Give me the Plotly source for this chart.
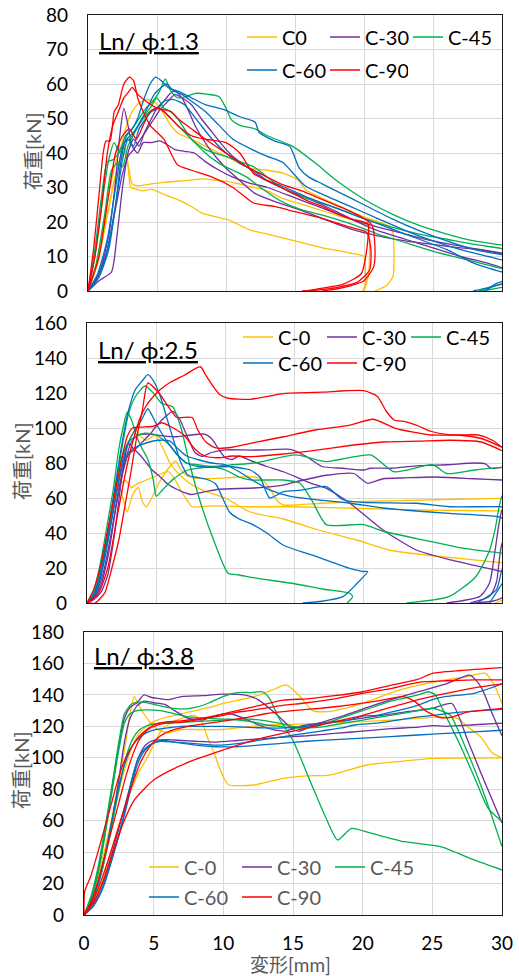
import plotly.graph_objects as go

# ---------------- labels / styling constants ----------------
SERIES_COLORS = ["#FFC000", "#7030A0", "#00B050", "#0070C0", "#FF0000"]
P1_LABELS = ["C0", "C-30", "C-45", "C-60", "C-90"]
P23_LABELS = ["C-0", "C-30", "C-45", "C-60", "C-90"]
PANEL_TITLES = ["Ln/ ϕ:1.3", "Ln/ ϕ:2.5", "Ln/ ϕ:3.8"]
Y_TITLE = "荷重[kN]"
X_TITLE = "変形[mm]"
X_RANGE = [0, 30]
X_DTICK = 5
Y_MAX = [80, 160, 180]
Y_DTICK = [10, 20, 20]

# ---------------- data: each curve = list of [deformation mm, load kN] ----------------
# Panel 1 (Ln/phi 1.3)
p1_c0 = [
    [[0,0],[0.5,6],[1.0,16],[1.5,28],[2.0,37],[2.4,42],[2.8,48],[3.2,52],[3.7,54.5],[4.3,55.5],[4.9,54.5],[5.4,52],[6.0,48],[6.6,45.5],[7.5,44],[8.5,42],[9.5,40],[10.5,38],[11.7,35.6],[13,35],[14.2,34.1],[15.2,32.2],[15.8,29.3],[17.8,25.4],[20.0,21.5],[21.9,18.6],[22.1,16.7],[22.1,4.2],[21.6,1.5],[20.8,0]],
    [[0,0],[0.6,7],[1.2,18],[1.8,30],[2.3,38],[2.6,42],[2.9,37],[3.2,31],[3.6,30.5],[4.5,31],[5.5,31.5],[7,32],[8.3,32.5],[9.5,32],[10.2,31.7],[11,31],[12.1,30],[13,29],[14,27],[16,24.5],[18,22],[19.6,20],[20.3,19],[20.4,12],[20.3,4],[20.0,0]],
    [[0,0],[0.7,8],[1.3,20],[1.9,32],[2.3,38],[2.6,40],[2.9,36],[3.1,30],[3.5,29.5],[4,29],[4.6,29.5],[5.5,28],[6.5,26.5],[7.5,24.5],[8.3,22.5],[10.2,20.6],[11.7,17.7],[13,16.5],[15,14.5],[17,12.5],[19,11],[20,10],[20.1,7],[20.1,2],[19.9,0]],
]
p1_c30 = [
    [[0,0],[0.8,3],[1.7,5.5],[2.1,16],[2.5,30],[2.9,40],[3.3,44],[3.7,42],[4.1,46],[4.6,50],[5.0,53],[5.5,55],[5.9,57],[6.3,58],[6.8,56],[7.2,53],[7.8,47.6],[8.7,41.8],[9.9,36],[11,32],[12.1,28.3],[13.5,26],[15,24],[17,21],[19,18],[21,16],[23,14.5],[25,13.5],[27,12.5],[28.5,12],[30,11],[31,10.5]],
    [[0,0],[0.7,4],[1.4,12],[2.0,24],[2.5,34],[2.9,39],[3.3,41],[3.8,44],[4.3,47],[4.8,50],[5.3,53],[5.8,55],[6.3,57],[6.8,56],[7.5,54],[8.2,50],[9,46],[9.8,42],[10.5,39],[11.5,36],[12.5,33],[14,30],[15.5,27.5],[17,25],[19,21],[21,17.5],[23,15],[25,12.5],[27,10],[29,8],[30,6.8],[31,6]],
    [[0,0],[0.8,5],[1.5,16],[2.0,32],[2.3,45],[2.6,53],[2.9,48],[3.2,42],[3.6,40],[4.0,43],[4.6,43],[5.2,43.5],[5.7,42.5],[6.3,41],[7,40.5],[7.7,40],[8.5,37.5],[9.5,35],[10.5,33],[11.7,31.3],[13,30],[15,27],[17,24],[19,21],[21,18.5],[23,16.5],[25,14.5],[27,13],[29,11.5],[30,10.8],[31,10.5]],
]
p1_c45 = [
    [[0,0],[0.5,10],[1.0,25],[1.5,38],[1.9,43],[2.3,40],[2.7,45],[3.2,47],[3.7,50],[4.2,53],[4.7,55],[5.2,58],[5.6,61.5],[6.0,58],[6.5,56],[7.2,56.5],[7.8,57.3],[8.7,57],[9.5,56.3],[10,53],[10.4,49.6],[11,48],[12.1,47],[13,45],[14.8,42],[16.5,37],[18,32],[20,26.6],[22.2,22],[24,19],[26,16.5],[28,14.5],[30,13.3],[32,12]],
    [[0,0],[0.6,8],[1.2,22],[1.7,35],[2.1,37],[2.5,36],[2.9,42],[3.4,46],[3.9,50],[4.5,53],[5.0,56],[5.5,53],[6.0,52],[6.5,50],[7.5,44],[8.5,41],[10,39],[11,37.5],[12,36],[13,33],[14,30],[15,28],[16.5,26],[18,24],[20,21],[22,18.5],[24,16.5],[26,15],[28,13.5],[30,12.3],[31,11.5],[31.5,8],[30.5,3],[29.5,1.5],[28.3,0]],
    [[0,0],[0.5,12],[1.0,28],[1.4,37.5],[1.8,38],[2.2,40],[2.6,43],[3.0,44],[3.5,47],[4.0,50],[4.5,52],[5.0,53],[5.5,52],[6.5,48],[7.5,44],[8.5,40],[9.5,37],[10.5,35],[11.5,33],[12.5,30],[14,26],[15.5,23.5],[17,22],[19,19.5],[21,16.5],[23,14],[25,11.5],[27,9.5],[29,7.5],[30,6.5],[31,5.5],[31.5,4],[30.5,1.5],[29.5,0.7],[28.5,0]],
]
p1_c60 = [
    [[0,0],[0.8,4],[1.5,12],[2.0,25],[2.4,38],[2.8,45],[3.2,47],[3.6,50],[4.0,55],[4.5,60],[4.9,62],[5.3,61],[5.8,59],[6.6,57.8],[7.5,56],[8.5,54],[9.9,52.5],[11,50.5],[12.1,49],[12.4,46],[13.5,43.5],[14.6,42],[15.3,35.7],[16,33],[17,31],[18.5,28],[20,25],[22,21],[24,17.5],[26,14.5],[28,12],[30,10.5],[31.5,9.5],[32,6],[31,3],[30,2],[29,1],[27.9,0]],
    [[0,0],[0.7,5],[1.4,15],[2.0,30],[2.4,40],[2.8,44],[3.3,46],[3.8,49],[4.3,53],[4.8,57],[5.3,59],[5.7,60],[6.2,58],[6.8,57],[7.5,55],[8.5,52],[9.5,48],[10.5,44],[11.9,41],[13,39],[14.1,37.3],[15.7,30.6],[17,28],[19,24.5],[21,21],[23,17.5],[25,14.5],[27,12],[29,10],[30,9],[31,8.5],[31.5,6],[30.5,3.5],[29.5,2],[28.8,0]],
    [[0,0],[0.6,3],[1.3,10],[2.0,25],[2.5,38],[2.9,44],[3.3,42],[3.7,47],[4.2,50],[4.6,52],[5.1,53],[5.5,55],[6.2,55.5],[7,54],[8,49],[9,44],[10,40],[11,37],[12,35],[13,32],[14,30.5],[16,27],[18,24],[20,21],[22,18],[24,15],[26,12],[28,8],[30,5.5],[31,5]],
]
p1_c90 = [
    [[0,0],[0.4,12],[0.8,28],[1.1,40],[1.3,43.5],[1.6,43.5],[1.9,52],[2.2,54],[2.6,60],[3.0,62],[3.3,61],[3.6,56],[4.0,52],[4.5,48],[5.0,46],[5.5,44],[6.0,40],[6.5,36.5],[7.5,35],[9,33],[10.5,30],[12,25.5],[13.5,24.5],[15,23],[17,21],[19,18.5],[20.2,17],[20.5,12],[20.4,6],[19.5,2.5],[18,1],[16,0]],
    [[0,0],[0.5,10],[1.0,25],[1.4,40],[1.8,48],[2.2,52],[2.6,56],[3.0,58],[3.2,59],[3.6,57],[4.2,55],[5.0,53],[6.0,52],[6.5,50],[7.5,47],[8.5,44],[10,40],[11.5,36],[12.5,34],[14,31],[15.5,29],[17,26.5],[18.5,24],[20,21],[20.6,19],[20.8,12],[20.7,7],[20,3],[18.5,1],[17,0]],
    [[0,0],[0.8,10],[1.5,28],[2.0,40],[2.5,45],[3.0,47],[3.5,44],[4,48],[4.5,52],[5,53],[5.5,52],[6.5,48],[7.5,45],[8.5,44],[10,43],[11,40],[12,34],[13,32],[14,30],[15,28],[16,26],[17,24.5],[18,22.5],[19,21],[20,20],[20.3,19.5],[20.2,12],[19.8,5],[18.5,2],[16.5,0.5],[15.5,0]],
]

# Panel 2 (Ln/phi 2.5)
p2_c0 = [
    [[0,0],[0.6,6],[1.2,24],[1.7,45],[2.0,58],[2.3,68],[2.6,60],[2.9,52],[3.3,62],[3.7,66],[4.0,58],[4.3,55],[4.8,62],[5.3,70],[5.8,76],[6.4,81],[6.8,76],[7.4,72],[8.5,71],[10,71.5],[11.8,72.2],[12.6,71],[13.2,65.5],[13.8,58],[14.2,56],[17,57],[20,58],[25,59],[30,59.8]],
    [[0,0],[0.5,5],[1.1,22],[1.6,44],[2.0,62],[2.4,68],[2.8,70],[3.2,66],[3.6,68],[4.2,70],[4.8,72],[5.4,74],[5.9,75],[6.4,70],[6.8,64],[7.3,58],[7.6,55],[9,55.5],[11.8,55],[15,55],[20,54],[25,53],[30,52.6]],
    [[0,0],[0.5,5],[1.0,18],[1.5,38],[2.0,58],[2.4,72],[2.8,86],[3.2,95],[3.5,99],[3.9,95],[4.3,93],[4.9,96],[5.4,90],[6.0,80],[6.6,74],[7.5,68],[8.5,64],[10,60],[11.8,52],[14.2,48],[16.6,42],[19.5,36],[22,30],[25,27],[30,23],[31,22],[31.5,10],[30.5,3],[30,1.5],[29.5,0]],
]
p2_c30 = [
    [[0,0],[0.5,3],[1.0,10],[1.6,30],[2.1,55],[2.6,75],[3.0,85],[3.5,88],[4.0,92],[4.5,96],[5,101],[5.6,106],[6.2,109.5],[6.7,105],[7.2,96],[7.8,86],[8.3,83.8],[9,86],[10,87.5],[11.8,87.4],[13,87.5],[14.7,87.8],[15.8,84],[17,78],[18.5,77],[20,76],[20.5,77],[22,77],[24,78.5],[26,79],[28,80],[28.8,79.5],[29.2,77],[30,77.5],[31,77],[32,73],[31,63],[30,53],[29.5,30],[29.1,11.4],[28.4,3.8],[26,0]],
    [[0,0],[0.6,5],[1.2,18],[1.8,42],[2.3,65],[2.8,82],[3.2,92],[3.7,96],[4.5,96.5],[5.5,95.5],[6.5,95],[7.5,96],[8.5,96.5],[9,94],[9.6,87],[10,83],[10.5,82],[11,84],[11.8,81.5],[13,78],[14.2,75],[16.2,68.4],[17.3,65.5],[19,57],[21.4,41.7],[23.8,30.3],[26.3,24.6],[28,21.5],[30,18],[31,16],[31.5,12],[30.5,6],[30,3],[29.3,1],[28,0]],
    [[0,0],[0.5,2],[1.0,6],[1.5,16],[2.0,40],[2.4,65],[2.7,82],[3.0,91],[3.4,88],[3.9,84],[4.3,80],[4.7,76],[5.3,72],[5.9,67.6],[6.5,65],[7.1,62.9],[7.5,62],[8.5,63.5],[9.5,65],[12.1,65.7],[14.2,67.4],[15.5,70],[17.3,73],[19.3,74],[19.8,71],[20.3,68.4],[21.4,71],[23,71.5],[25,72],[28,71],[30,70.3],[31,70],[32,65],[31,45],[30,34],[29.6,12],[29.1,3.8],[27.7,0]],
]
p2_c45 = [
    [[0,0],[0.4,5],[0.9,20],[1.4,42],[1.9,65],[2.3,88],[2.6,100],[2.9,109],[3.2,105],[3.6,95],[4.0,88],[4.4,82],[4.8,70],[5.0,61],[5.5,65],[6.2,70.5],[7.3,76],[9,78],[10.5,79],[12.1,80],[15.1,84.6],[17.3,80.8],[20.5,84.6],[22.2,75],[25,79],[26,74],[28,76],[30,77.5],[31,77],[32,74],[31,68],[30,61],[29.5,42],[29.1,30],[28.1,15],[26.2,3.8],[23.1,0]],
    [[0,0],[0.5,5],[1.0,18],[1.6,42],[2.1,68],[2.6,92],[3.0,108],[3.5,118],[4.2,124],[4.8,120],[5.4,114],[6.2,112],[6.8,100],[7.4,80],[8.3,55],[9.2,35],[10.2,17],[11,16],[12.1,14.3],[15,11],[17,8],[19,5.5],[19.2,3.6],[18.8,0]],
    [[0,0],[0.5,6],[1.0,20],[1.6,45],[2.1,68],[2.6,85],[3.0,92],[3.5,95],[4.2,97],[5,96],[6,90],[6.6,84],[7.2,80],[8,79],[9,78],[10,76],[11,72],[11.8,70.3],[14.2,70.3],[15.4,68.4],[16.3,58],[17.3,44.8],[20,44.8],[21.4,41],[24.8,35.2],[27,31.5],[30,28.5]],
]
p2_c60 = [
    [[0,0],[0.5,5],[1.0,18],[1.5,40],[2.0,65],[2.5,90],[3.0,110],[3.5,122],[4.0,127],[4.4,130.5],[4.8,127],[5.3,118],[5.8,105],[6.3,92],[6.8,80],[7.3,73],[7.8,72],[8.5,71],[9.3,68],[9.8,60],[10.3,52],[11,48],[11.8,45.5],[13,40],[14.2,33],[16.6,26.5],[19,19.8],[20,18],[20.3,18],[19.5,11],[18.5,3.6],[17,1],[15.6,0]],
    [[0,0],[0.5,4],[1.0,16],[1.6,40],[2.1,62],[2.6,82],[3.0,92],[3.4,98],[3.9,104],[4.4,111],[4.9,104],[5.4,97],[6.0,90],[6.5,85],[7.2,80],[8,78],[9,77.5],[10.2,78],[11.2,77],[11.8,76],[12.5,72],[13.2,60],[14.2,63.6],[15.5,64.5],[17.3,66.5],[18.5,59],[20,57.5],[23.8,57],[26.2,55],[30,55],[31,54],[31.5,40],[30.5,25],[30,19],[29.6,7.6],[28.2,0]],
    [[0,0],[0.6,5],[1.2,22],[1.8,48],[2.3,70],[2.8,84],[3.3,88],[3.8,90],[4.5,92],[5.2,93],[6.0,92.5],[6.6,88],[7.2,84],[8,82],[9,80],[10,79],[11,75],[11.8,71],[13.2,64.6],[14.7,60.9],[19,57],[21.4,54.3],[26.2,51.2],[29.6,49.5],[30,48.6],[31,47],[31.5,30],[30.3,15],[30,11],[29.1,0]],
]
p2_c90 = [
    [[0,0],[0.8,5],[1.5,20],[2.2,50],[2.8,75],[3.3,92],[3.8,105],[4.3,113],[4.8,118],[5.3,122],[6,126],[7,130],[8.2,135],[8.6,130],[9.1,124],[9.6,119],[10.2,117],[11.8,116.4],[14.2,119.7],[17,120.5],[20,121.3],[21,118],[21.6,110],[22.2,104.6],[23,103.6],[24,101],[24.9,98],[26.3,96],[28.3,96],[29.3,93],[30,89]],
    [[0,0],[0.6,0],[1.0,3],[1.3,6],[1.8,20],[2.3,36],[2.8,58],[3.2,76],[3.6,95],[4.0,110],[4.4,125.7],[5.2,120],[5.9,112],[6.5,106],[7.6,106],[8,99],[8.6,92],[9.3,88.6],[10.5,89],[11.8,91.2],[14.2,95],[16.6,99],[19,101.7],[20.7,105],[22.3,99.8],[24.9,96],[26.8,96],[28.5,94],[30,89]],
    [[0,0],[0.5,8],[1.0,22],[1.5,42],[2.0,62],[2.5,82],[2.9,95],[3.3,100],[4,100.5],[4.8,101],[5.4,103],[6,101],[7,96],[7.8,88],[8.5,84],[9.5,83],[10.5,84],[11.8,83.6],[14,85],[16.6,87.4],[19,90],[21.4,92],[24,92.5],[26.2,93],[28.5,92],[30,87]],
]

# Panel 3 (Ln/phi 3.8)
p3_c0 = [
    [[0,0],[0.5,10],[1.0,25],[1.5,42],[2.0,62],[2.5,85],[3.0,110],[3.3,128],[3.6,139],[3.9,134],[4.3,128],[4.8,122],[5.3,118],[6.0,116],[7,118],[8,118],[10,118],[12,120],[14,121],[16,121.5],[18,122.5],[20,123],[22,124],[24,125],[25.5,126],[26.8,125],[27.5,120],[28.5,113],[29.3,103],[30,100]],
    [[0,0],[0.6,10],[1.2,28],[1.8,50],[2.4,75],[3.0,95],[3.5,108],[4.0,116],[4.5,120],[5,123],[6,126],[7,128],[8,130],[9,132],[10,134.6],[11,136.5],[12.2,138.9],[13.5,143],[14.5,146.3],[15.5,139],[16.4,130],[17.4,129.3],[18.5,131],[20,134.6],[22.6,143],[25,148],[27.5,151.6],[28.8,153.7],[29.4,147],[30,134.6]],
    [[0,0],[0.7,8],[1.4,24],[2.1,45],[2.8,65],[3.5,82],[4.0,92],[4.6,101],[5.1,110],[5.6,118],[6.2,122],[7.0,125],[7.9,127],[8.4,124],[8.9,112],[9.3,104],[9.6,96.5],[10.1,86],[10.4,82.7],[12.2,82.7],[14.3,86.9],[16,88.5],[17.6,89],[20.3,95.4],[22.5,97.5],[25.1,99.6],[30,100]],
]
p3_c30 = [
    [[0,0],[0.5,10],[1.0,28],[1.5,52],[2.0,80],[2.5,108],[2.9,125],[3.3,132],[3.8,135],[4.3,140],[4.8,138.5],[5.3,137.8],[6,137],[7,138.9],[8.5,139.5],[10,140.5],[11.5,140],[12.5,137],[13.5,130],[14.5,122],[15,118],[15.5,117],[16.5,121],[18,125],[20,131],[22,137],[24,142],[26,147],[27.7,152.6],[28.5,145],[29.3,128],[30,114]],
    [[0,0],[0.6,8],[1.2,25],[1.8,50],[2.4,80],[2.9,110],[3.3,125],[3.8,133],[4.3,136],[5,135],[5.8,134],[6.5,130],[7.5,125],[8.5,124],[9.5,127],[10.5,128],[11.5,125],[12.5,121],[13.5,118],[14.5,117],[15.5,120],[17,122],[19,124],[21,126.5],[23,129],[25,131.5],[26.4,134.5],[27.5,112],[28.5,90],[30,58.5]],
    [[0,0],[0.7,8],[1.4,22],[2.1,42],[2.8,65],[3.4,85],[3.9,100],[4.4,108],[5,111],[6,111.5],[7,111],[8,110.5],[9.5,110],[11,111],[12.5,112],[14,113],[16,114],[18,115.5],[20,117],[22,118.5],[24,119.5],[25,120.5],[26,120],[28,121],[30,122]],
]
p3_c45 = [
    [[0,0],[0.5,12],[1.0,30],[1.5,55],[2.0,82],[2.5,110],[2.9,128],[3.4,134],[4,135.5],[5,134],[6,132],[7,131],[8,132],[9,135],[10,139],[11,141.5],[12,141.5],[12.8,142],[13.3,138],[14,125],[15,111],[16.3,83.7],[17.3,63],[18.2,47.7],[19.2,55.1],[20.6,52],[23,46.6],[25.6,43.5],[28,35],[30,28.6]],
    [[0,0],[0.5,10],[1.0,26],[1.5,50],[2.0,78],[2.5,105],[2.9,122],[3.3,128],[3.8,130],[4.5,130.5],[5.5,130],[6.5,128],[7.5,126],[9,125],[10.5,124.5],[12,123],[13,121],[14,120],[15,119],[16,119],[17,121],[18,124],[19,127],[20,130],[21,133],[22,136],[23,138],[24,140],[24.7,142],[25.2,140],[26,126],[27,108],[28,88],[29,68],[30,59.4]],
    [[0,0],[0.6,9],[1.2,25],[1.8,48],[2.4,75],[3.0,100],[3.5,112],[4.0,118],[4.7,121],[5.5,122],[6.5,122.5],[8,123],[10,124],[12,124.5],[14,122],[15,120],[16,119],[17,119.5],[18,121],[20,124],[22,127],[24,130],[25,131.5],[25.6,130],[26.3,127],[27.5,104],[28.5,82],[29.3,62],[30,43.5]],
]
p3_c60 = [
    [[0,0],[0.6,5],[1.2,15],[1.8,30],[2.4,48],[2.9,65],[3.4,85],[3.9,100],[4.4,106],[5,109.5],[5.6,111],[6.5,110],[8,108],[9.5,107],[11,107],[12.5,108],[14,109],[16,110.5],[18,111.5],[20,112.5],[22,113.5],[24,114.5],[26,115.5],[28,116.5],[30,117.5]],
    [[0,0],[0.5,8],[1.0,20],[1.5,38],[2.0,60],[2.5,82],[3.0,98],[3.5,108],[4.0,113],[4.5,116],[5.2,118],[6,119],[7,120],[8.5,120],[10,120],[11.5,119.5],[13,119],[14.5,119],[16,120],[17.5,122],[19,124],[20,126.5],[21,127],[22.5,130],[24,133.5],[25,137],[26,139],[28,141],[30,147]],
    [[0,0],[0.7,6],[1.4,18],[2.1,38],[2.8,60],[3.3,78],[3.8,95],[4.3,104],[4.9,109],[5.5,110.5],[6.5,110],[8,109],[9.5,108],[11,109],[12.5,111],[14,113],[15.5,115],[17,117],[18.5,119],[19.5,121],[21,122],[22.5,124],[24,126],[25.5,127.5],[27,129],[28.5,130],[30,130.8]],
]
p3_c90 = [
    [[0,0],[0.05,15],[0.5,25],[1.0,40],[1.5,56],[2.0,72],[2.5,88],[3.0,100],[3.5,108],[4.0,114],[4.5,118],[5,121],[6,123],[7,123.5],[8,124.5],[9,126],[10,128],[11,130],[12,132],[14.3,136.7],[16,137.5],[18,139.5],[20,142],[22,146],[24,150],[25,153.7],[27,155.5],[30,157.3]],
    [[0,0],[0.6,10],[1.2,28],[1.8,48],[2.4,68],[3.0,88],[3.5,102],[4.0,112],[4.6,118],[5.3,121],[6,122],[7,122.5],[8,124],[9,125.5],[10,127],[11,129],[11.9,130],[14,133],[16,135],[18,137.5],[20,141],[22,144],[24,148],[26,149],[28,149.5],[30,149.5]],
    [[0,0],[0.7,10],[1.4,26],[2.1,45],[2.8,65],[3.5,84],[4.1,98],[4.8,108],[5.5,114],[6.5,118],[7.5,120],[9,122],[10.5,124],[11.9,126],[13,128],[15,130],[17,131.5],[19,133.5],[21,136],[22.9,138.9],[23.7,136],[24.5,130],[25.5,125.7],[26.3,125.7],[27.5,129],[30,131.4]],
    [[0,0],[0.7,8],[1.4,22],[2.1,40],[2.8,58],[3.6,73],[4.3,80],[5,85.9],[6.2,92],[7.9,98.6],[10,105],[12.2,111.3],[14,115],[16,119],[18,123],[20,127],[22,132],[24,137],[26,141],[28,144.5],[30,147]],
]

PANELS = [
    [p1_c0, p1_c30, p1_c45, p1_c60, p1_c90],
    [p2_c0, p2_c30, p2_c45, p2_c60, p2_c90],
    [p3_c0, p3_c30, p3_c45, p3_c60, p3_c90],
]
PANEL_LABELS = [P1_LABELS, P23_LABELS, P23_LABELS]

# ---------------- layout geometry (pixels) ----------------
W, H = 519, 976
FONT = "Lato, 'Noto Sans CJK JP', 'Noto Sans', sans-serif"
BOXES = [(88, 502, 15, 291), (87, 502, 323, 603), (84, 502, 632, 915)]
TITLE_POS = [(97, 40), (96, 349), (92, 655)]
YTITLE_POS = [(33, 151), (22, 461), (21, 770)]
# (first line start px, column spacing px, row1 y, row2 y, text colour)
LEG_ROWS = [(250, 84, 37, 70, "#000000"), (246, 85, 337, 363, "#000000"), (152, 94, 867, 897, "#595959")]
SYMBOL_SPACE = 46  # px plotly adds for the line symbol in each legend entry


def fx(p):
    return p / W


def fy(p):
    return 1 - p / H


fig = go.Figure()
for pi, panel in enumerate(PANELS):
    xa = "x" if pi == 0 else f"x{pi + 1}"
    ya = "y" if pi == 0 else f"y{pi + 1}"
    for si, curves in enumerate(panel):
        row = 0 if si < 3 else 1
        lg_idx = pi * 2 + row + 1
        lg = "legend" if lg_idx == 1 else f"legend{lg_idx}"
        for ci, curve in enumerate(curves):
            fig.add_trace(go.Scatter(
                x=[p[0] for p in curve], y=[p[1] for p in curve],
                mode="lines",
                line=dict(color=SERIES_COLORS[si], width=1.3, shape="spline", smoothing=0.6),
                name=PANEL_LABELS[pi][si],
                legendgroup=f"p{pi}s{si}",
                showlegend=(ci == 0),
                legend=lg,
                xaxis=xa, yaxis=ya,
                hoverinfo="skip",
            ))

layout = dict(
    width=W, height=H,
    margin=dict(l=0, r=0, t=0, b=0, autoexpand=False),
    paper_bgcolor="white", plot_bgcolor="white",
    font=dict(family=FONT, color="#000000"),
    hovermode=False,
    annotations=[],
)

for pi in range(3):
    x0, x1, y0, y1 = BOXES[pi]
    sfx = "" if pi == 0 else str(pi + 1)
    layout["xaxis" + sfx] = dict(
        domain=[fx(x0), fx(x1)], range=X_RANGE, dtick=X_DTICK, tick0=0,
        anchor="y" + sfx, automargin=False,
        showgrid=True, gridcolor="#D9D9D9", gridwidth=1.2,
        showline=True, mirror=True, linecolor="#1a1a1a", linewidth=1.4,
        zeroline=False, ticks="",
        showticklabels=(pi == 2),
        tickfont=dict(size=19, family=FONT, color="#000000"),
        ticklabelstandoff=11,
        fixedrange=True,
    )
    layout["yaxis" + sfx] = dict(
        domain=[fy(y1), fy(y0)], range=[0, Y_MAX[pi]], dtick=Y_DTICK[pi], tick0=0,
        anchor="x" + sfx, automargin=False,
        showgrid=True, gridcolor="#D9D9D9", gridwidth=1.2,
        showline=True, mirror=True, linecolor="#1a1a1a", linewidth=1.4,
        zeroline=False, ticks="",
        tickfont=dict(size=19, family=FONT, color="#000000"),
        ticklabelstandoff=15,
        fixedrange=True,
    )
    tx, ty = TITLE_POS[pi]
    layout["annotations"].append(dict(
        x=fx(tx), y=fy(ty), xref="paper", yref="paper", xanchor="left", yanchor="middle",
        text=f"<u>{PANEL_TITLES[pi]}</u>", showarrow=False,
        font=dict(size=24, family=FONT, color="#000000"),
    ))
    yx, yy = YTITLE_POS[pi]
    layout["annotations"].append(dict(
        x=fx(yx), y=fy(yy), xref="paper", yref="paper", xanchor="center", yanchor="middle",
        text=Y_TITLE, textangle=-90, showarrow=False,
        font=dict(size=20, family=FONT, color="#595959"),
    ))
    lx, lw, r1, r2, lcol = LEG_ROWS[pi]
    for row, ry in enumerate([r1, r2]):
        idx = pi * 2 + row + 1
        name = "legend" if idx == 1 else f"legend{idx}"
        layout[name] = dict(
            orientation="h", x=fx(lx - 8), y=fy(ry), xanchor="left", yanchor="middle",
            bgcolor="rgba(0,0,0,0)", borderwidth=0,
            font=dict(size=20, family=FONT, color=lcol),
            entrywidth=lw - SYMBOL_SPACE, entrywidthmode="pixels", itemwidth=30,
            itemclick=False, itemdoubleclick=False,
            traceorder="normal",
        )

layout["annotations"].append(dict(
    x=fx(290), y=fy(964), xref="paper", yref="paper", xanchor="center", yanchor="middle",
    text=X_TITLE, showarrow=False, font=dict(size=19, family=FONT, color="#595959"),
))

fig.update_layout(**layout)
# remove the page's default 8px body margin so the figure sits at the window origin
fig.write_html(
    "out.html",
    config={"displayModeBar": False, "staticPlot": False},
    post_script="document.body.style.margin='0';document.body.style.overflow='hidden';",
)
